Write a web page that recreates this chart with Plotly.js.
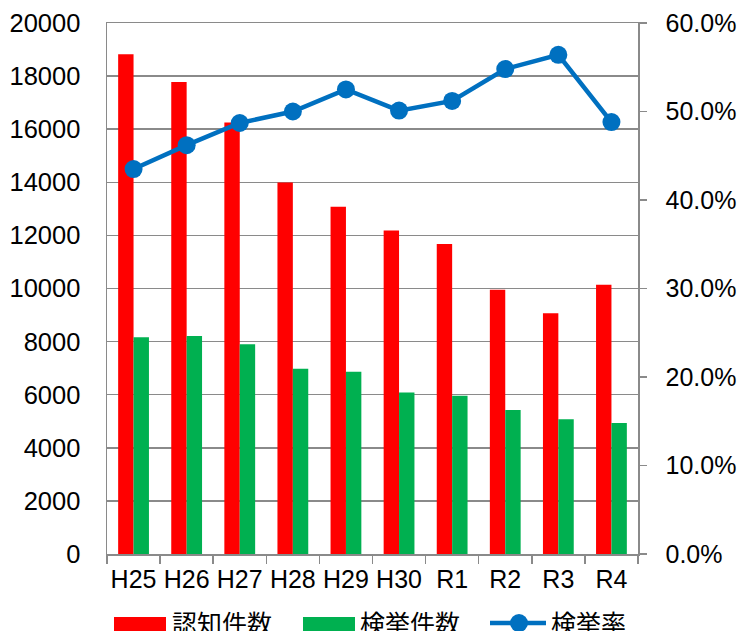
<!DOCTYPE html>
<html>
<head>
<meta charset="utf-8">
<script src="https://cdn.plot.ly/plotly-3.0.1.min.js"></script>
<style>html,body{margin:0;padding:0;background:#fff;}#chart{width:737px;height:631px;}</style>
</head>
<body>
<div id="chart"></div>
<script>
const categories = ["H25","H26","H27","H28","H29","H30","R1","R2","R3","R4"];
const ninchi = [18820,17780,16250,13990,13080,12180,11680,9950,9070,10140];
const kenkyo = [8160,8210,7900,6980,6860,6080,5960,5420,5080,4930];
const rate = [0.435,0.462,0.487,0.500,0.525,0.501,0.512,0.548,0.564,0.488];
const seriesNames = ["認知件数","検挙件数","検挙率"];
const titleText = "刑法犯認知件数・検挙件数・検挙率";

const FONT = "'Liberation Sans', Arial, 'Noto Sans CJK JP', sans-serif";
const GRID = "#8a8a8a";
const RED = "#ff0000", GREEN = "#00b050", BLUE = "#0070c0";

// plot area in pixels: x 107..638, y 23..554
const L = 107, R = 638, T = 23, B = 554;
const px = x => (x - L) / (R - L);
const py = y => (B - y) / (B - T);

const traces = [
  {type:"bar", x:categories, y:ninchi, name:seriesNames[0], marker:{color:RED}, showlegend:false},
  {type:"bar", x:categories, y:kenkyo, name:seriesNames[1], marker:{color:GREEN}, showlegend:false},
  {type:"scatter", mode:"lines+markers", x:categories, y:rate, name:seriesNames[2], yaxis:"y2",
   line:{color:BLUE, width:4.5}, marker:{color:BLUE, size:18}, showlegend:false, cliponaxis:false}
];

const shapes = [
  {type:"rect", xref:"paper", yref:"paper", x0:px(114), x1:px(166), y0:py(617), y1:py(645), fillcolor:RED, line:{width:0}},
  {type:"rect", xref:"paper", yref:"paper", x0:px(303), x1:px(355), y0:py(617), y1:py(645), fillcolor:GREEN, line:{width:0}},
  {type:"line", xref:"paper", yref:"paper", x0:px(490), x1:px(546), y0:py(623), y1:py(623), line:{color:BLUE, width:4.5}},
  {type:"circle", xref:"paper", yref:"paper", x0:px(510), x1:px(528), y0:py(614), y1:py(632), fillcolor:BLUE, line:{width:0}}
];

const annotations = [
  {text:titleText, xref:"paper", yref:"paper", x:px(376), y:1, xanchor:"center", yanchor:"middle", yshift:36,
   showarrow:false, font:{family:FONT, size:25, color:"#000", weight:"bold"}},
  {text:seriesNames[0], xref:"paper", yref:"paper", x:px(170), y:py(624), xanchor:"left", yanchor:"middle", showarrow:false, font:{family:FONT, size:25, color:"#000"}},
  {text:seriesNames[1], xref:"paper", yref:"paper", x:px(358), y:py(624), xanchor:"left", yanchor:"middle", showarrow:false, font:{family:FONT, size:25, color:"#000"}},
  {text:seriesNames[2], xref:"paper", yref:"paper", x:px(549), y:py(624), xanchor:"left", yanchor:"middle", showarrow:false, font:{family:FONT, size:25, color:"#000"}}
];

const layout = {
  width:737, height:631,
  margin:{l:L, r:737-R, t:T, b:631-B, pad:0},
  paper_bgcolor:"#fff", plot_bgcolor:"#fff",
  font:{family:FONT, size:25, color:"#000"},
  barmode:"group", bargap:0.42, bargroupgap:0,
  showlegend:false,
  xaxis:{type:"category", range:[-0.5,9.5], autorange:false, showline:true, linecolor:GRID, linewidth:1.5, mirror:true,
         ticks:"outside", tickson:"boundaries", ticklen:8, tickcolor:GRID, tickwidth:1.5,
         showgrid:false, tickfont:{size:25}, tickangle:0, ticklabelstandoff:2},
  yaxis:{range:[0,20000], dtick:2000, tickformat:"d", showline:true, linecolor:GRID, linewidth:1.5,
         showgrid:true, gridcolor:GRID, gridwidth:1.5, ticks:"", ticklabelstandoff:20,
         zeroline:false, tickfont:{size:25.5}},
  yaxis2:{overlaying:"y", side:"right", range:[0,0.6], dtick:0.1, tickformat:".1%",
          showline:true, linecolor:GRID, linewidth:1.5, showgrid:false, zeroline:false,
          ticks:"outside", ticklen:7, tickcolor:GRID, tickwidth:1.5, ticklabelstandoff:14,
          tickfont:{size:25}},
  shapes:shapes,
  annotations:annotations
};

Plotly.newPlot("chart", traces, layout, {displayModeBar:false, staticPlot:true});
</script>
</body>
</html>
